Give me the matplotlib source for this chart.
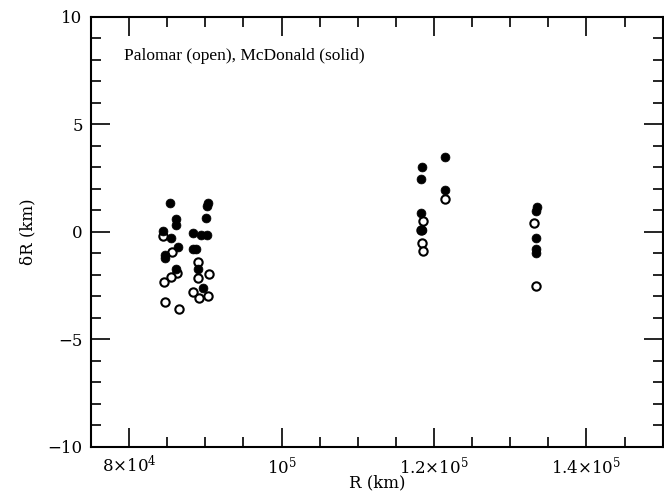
import matplotlib
matplotlib.use("Agg")
import matplotlib.pyplot as plt
from matplotlib.ticker import MultipleLocator

plt.rcParams['font.family'] = ['DejaVu Serif']
plt.rcParams['mathtext.fontset'] = 'dejavuserif'

# McDonald (solid)
mcd_r = [85400, 86100, 86100, 84450, 85550, 86400, 84700, 84700, 86100,
         90300, 90170, 90090, 88350, 89440, 90260, 88350, 88790, 89090, 89650,
         118400, 118300, 118300, 118400, 121400, 121400,
         133450, 133400, 133350, 133400, 133350]
mcd_dr = [1.33, 0.6, 0.33, 0.06, -0.29, -0.68, -1.07, -1.22, -1.73,
          1.33, 1.21, 0.64, -0.06, -0.14, -0.14, -0.8, -0.79, -1.73, -2.62,
          3.0, 2.45, 0.9, 0.1, 3.5, 1.95,
          1.15, 0.95, -0.28, -0.8, -1.0]

# Palomar (open)
pal_r = [84400, 85670, 86270, 85550, 84550, 84700, 86530,
         89090, 90430, 89000, 88350, 89130, 90300,
         118500, 118300, 118400, 118500, 121400,
         133100, 133400]
pal_dr = [-0.19, -0.92, -1.92, -2.08, -2.34, -3.24, -3.58,
          -1.38, -1.95, -2.15, -2.78, -3.08, -3.0,
          0.5, 0.1, -0.5, -0.9, 1.55,
          0.42, -2.5]

xticks = [80000, 100000, 120000, 140000]
xticklabels = [r'$8{\times}10^4$', r'$10^5$', r'$1.2{\times}10^5$', r'$1.4{\times}10^5$']

fig = plt.figure(figsize=(6.64, 4.95), dpi=100)
ax = fig.add_axes([0.137, 0.097, 0.861, 0.869])

ax.plot(pal_r, pal_dr, 'o', ms=6, mfc='white', mec='black', mew=1.5, ls='none')
ax.plot(mcd_r, mcd_dr, 'o', ms=6.4, mfc='black', mec='black', mew=0.5, ls='none')

ax.set_xlim(75000, 150000)
ax.set_ylim(-10, 10)
ax.set_xticks(xticks)
ax.set_xticklabels(xticklabels)
ax.set_yticks([-10, -5, 0, 5, 10])
ax.xaxis.set_minor_locator(MultipleLocator(5000))
ax.yaxis.set_minor_locator(MultipleLocator(1))
ax.tick_params(which='both', direction='in', top=True, right=True, labelsize=12, width=1.2)
ax.tick_params(which='major', length=14, pad=6)
ax.tick_params(which='minor', length=7)
for s in ax.spines.values():
    s.set_linewidth(1.5)

ax.set_xlabel('R (km)', fontsize=12, labelpad=-2)
ax.set_ylabel('δR (km)', fontsize=12, labelpad=8)
ax.text(79300, 8.2, 'Palomar (open), McDonald (solid)', fontsize=12.5,
        family='Liberation Serif', va='center')

fig.savefig('out.png', dpi=100)
